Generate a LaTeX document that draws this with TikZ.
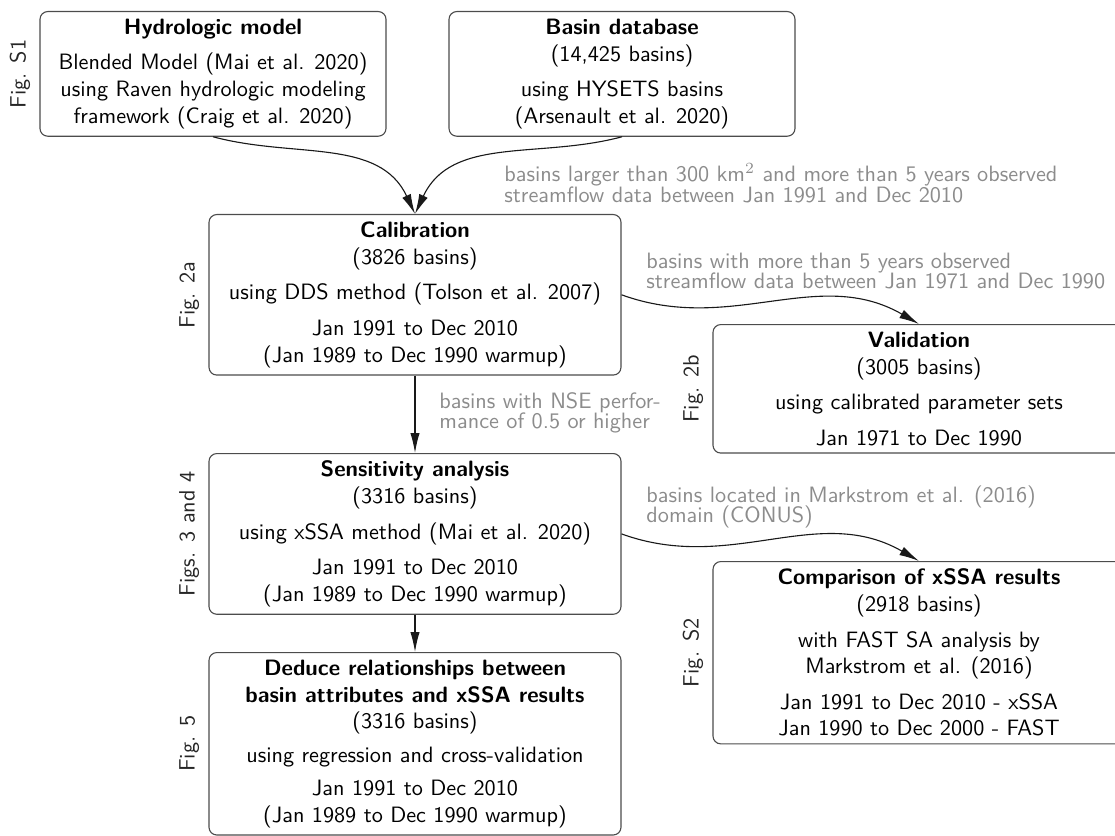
\documentclass[tikz,border=0pt]{standalone}
\usetikzlibrary{arrows.meta}
\newcommand\myboxfont{\fontsize{10}{12}\selectfont\sffamily}
\newcommand\mylblfont{\fontsize{10}{9.3}\selectfont\sffamily\lineskiplimit=-100pt}
\begin{document}
\begin{tikzpicture}[x=0.45pt,y=0.45pt,
  box/.style={draw=black!70, line width=0.5pt, rounded corners=3.5pt, align=center,
    font=\myboxfont, inner sep=3.33pt, anchor=north, text=black},
  topbox/.style={box, minimum width=155.7pt},
  widebox/.style={box, minimum width=185.4pt},
  conn/.style={-{Latex[length=9pt,width=4.2pt]}, line width=0.5pt, draw=black!90},
  lbl/.style={align=left, anchor=north west, inner sep=0pt, text=black!45, font=\mylblfont},
  figlbl/.style={rotate=90, anchor=south, font=\myboxfont, inner sep=4pt, text=black!85}]
\useasboundingbox (0,0) rectangle (1115,-836);
\clip (0,0) rectangle (1115,-836);

\node[topbox] (hydro) at (213,-11) {\textbf{Hydrologic model}\\[4pt]
  Blended Model (Mai et al. 2020)\\ using Raven hydrologic modeling\\ framework (Craig et al. 2020)};
\node[topbox] (basin) at (622,-11) {\textbf{Basin database}\\ (14,425 basins)\\[4pt]
  using HYSETS basins\\ (Arsenault et al. 2020)};
\node[widebox] (calib) at (415,-214) {\textbf{Calibration}\\ (3826 basins)\\[4pt]
  using DDS method (Tolson et al. 2007)\\[4pt] Jan 1991 to Dec 2010\\ (Jan 1989 to Dec 1990 warmup)};
\node[widebox] (valid) at (919,-324) {\textbf{Validation}\\ (3005 basins)\\[4pt]
  using calibrated parameter sets\\[4pt] Jan 1971 to Dec 1990};
\node[widebox] (sens) at (415,-453) {\textbf{Sensitivity analysis}\\ (3316 basins)\\[4pt]
  using xSSA method (Mai et al. 2020)\\[4pt] Jan 1991 to Dec 2010\\ (Jan 1989 to Dec 1990 warmup)};
\node[widebox] (comp) at (919,-561) {\textbf{Comparison of xSSA results}\\ (2918 basins)\\[4pt]
  with FAST SA analysis by\\ Markstrom et al. (2016)\\[4pt] Jan 1991 to Dec 2010 - xSSA\\ Jan 1990 to Dec 2000 - FAST};
\node[widebox] (deduce) at (415,-652) {\textbf{Deduce relationships between}\\ \textbf{basin attributes and xSSA results}\\ (3316 basins)\\[3pt]
  using regression and cross-validation\\[3pt] Jan 1991 to Dec 2010\\ (Jan 1989 to Dec 1990 warmup)};

\node[figlbl] (fs1) at (hydro.west) {Fig. S1};
\node[figlbl] (f2a) at (calib.west) {Fig. 2a};
\node[figlbl] (f2b) at (valid.west) {Fig. 2b};
\node[figlbl] (f34) at (sens.west) {Figs. 3 and 4};
\node[figlbl] (fs2) at (comp.west) {Fig. S2};
\node[figlbl] (f5) at (deduce.west) {Fig. 5};

\node[lbl] (la) at (504,-163) {\rule{0pt}{8pt}basins larger than 300 km$^2$ and more than 5 years observed\\ streamflow data between Jan 1991 and Dec 2010};
\node[lbl] (lb) at (646,-250) {\rule{0pt}{8pt}basins with more than 5 years observed\\ streamflow data between Jan 1971 and Dec 1990};
\node[lbl] (lc) at (439,-390) {\rule{0pt}{8pt}basins with NSE perfor-\\ mance of 0.5 or higher};
\node[lbl] (ld) at (646,-484) {\rule{0pt}{8pt}basins located in Markstrom et al. (2016)\\ domain (CONUS)};

\draw[conn] (hydro.south) to[out=-15,in=115] (calib.north);
\draw[conn] (basin.south) to[out=195,in=65] (calib.north);
\draw[conn] (calib.east) to[out=-20,in=150] (valid.north);
\draw[conn] (calib.south) -- (sens.north);
\draw[conn] (sens.east) to[out=-20,in=150] (comp.north);
\draw[conn] (sens.south) -- (deduce.north);
\end{tikzpicture}
\end{document}
